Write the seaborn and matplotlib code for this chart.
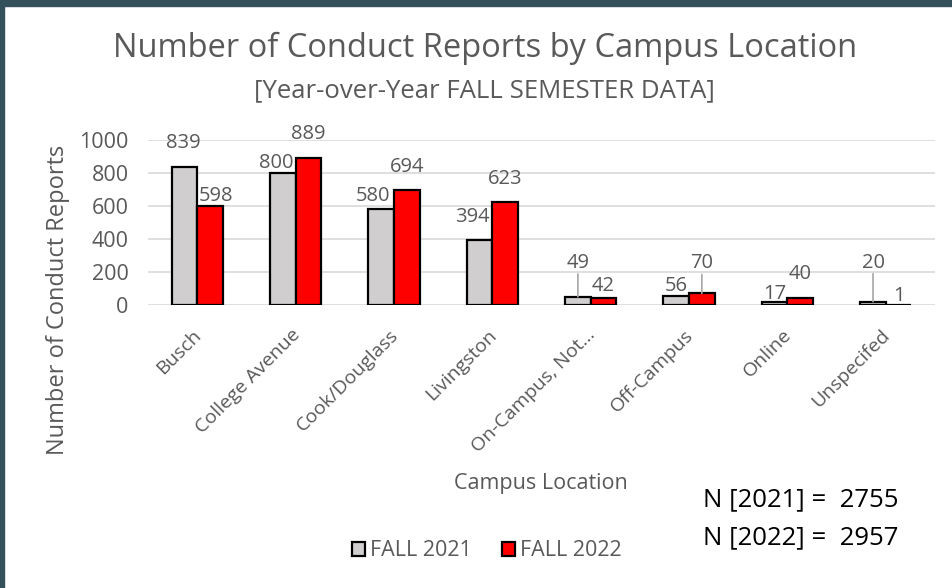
import numpy as np
import pandas as pd
import matplotlib
matplotlib.use("Agg")
import matplotlib.pyplot as plt
import matplotlib.transforms as mtransforms
import seaborn as sns
from matplotlib.patches import Rectangle

# data
locations = ["Busch", "College Avenue", "Cook/Douglass", "Livingston",
             "On-Campus, Not...", "Off-Campus", "Online", "Unspecifed"]
fall_2021 = [839, 800, 580, 394, 49, 56, 17, 20]
fall_2022 = [598, 889, 694, 623, 42, 70, 40, 1]
series_names = ["FALL 2021", "FALL 2022"]
yticks = [0, 200, 400, 600, 800, 1000]
n_totals = ["N [2021] =  2755", "N [2022] =  2957"]

df = pd.DataFrame({"location": locations, "FALL 2021": fall_2021, "FALL 2022": fall_2022})
long = df.melt(id_vars="location", var_name="year", value_name="count")

sns.set_style("white")
plt.rcParams["font.family"] = ["Open Sans", "DejaVu Sans"]
txt = "#595959"

fig = plt.figure(figsize=(9.53, 5.88), dpi=100)
# dark screenshot edge (top / left)
fig.patches.append(Rectangle((0, 1 - 6 / 588), 1, 6 / 588, transform=fig.transFigure,
                             color="#34505b", zorder=0))
fig.patches.append(Rectangle((0, 0), 4 / 953, 1, transform=fig.transFigure,
                             color="#34505b", zorder=0))

ax = fig.add_axes([148 / 953, 1 - 305 / 588, 787 / 953, 165 / 588])
sns.barplot(data=long, x="location", y="count", hue="year", palette=["#d0cece", "#ff0000"],
            saturation=1, width=0.52, gap=0, edgecolor="black", linewidth=1.6, ax=ax, zorder=3)

ax.set_ylim(0, 1000)
ax.set_yticks(yticks)
ax.yaxis.grid(True, color="#d9d9d9", linewidth=1.2, zorder=0)
ax.set_axisbelow(True)
for s in ax.spines.values():
    s.set_visible(False)
ax.tick_params(axis="y", length=0, pad=14, labelsize=15.5, labelcolor=txt)
ax.tick_params(axis="x", length=0, pad=15, labelsize=14, labelcolor=txt)
shift = mtransforms.ScaledTranslation(-5 / 100, 0, fig.dpi_scale_trans)
for lab in ax.get_xticklabels():
    lab.set_rotation(45)
    lab.set_ha("right")
    lab.set_rotation_mode("anchor")
    lab.set_transform(lab.get_transform() + shift)
ax.set_xlabel("")
ax.set_ylabel("")
ax.legend_.remove()

# data labels; offsets (px) mimic excel label placement
offs_2021 = [(-1, 24), (-7, 10), (-8, 13), (-7, 23), (0, 34), (0, 10), (0, 8), (0, 39)]
offs_2022 = [(6, 10), (0, 24), (0, 23), (0, 23), (0, 12), (0, 30), (0, 24), (0, 9)]
leader = {(0, 4), (1, 5), (0, 7)}
for k, (cont, vals, offs) in enumerate(zip(ax.containers, [fall_2021, fall_2022], [offs_2021, offs_2022])):
    for i, (bar, v) in enumerate(zip(cont, vals)):
        xc = bar.get_x() + bar.get_width() / 2
        dx, dy = offs[i]
        ax.annotate(str(v), xy=(xc, v), xytext=(dx, dy), textcoords="offset pixels",
                    ha="center", va="center", fontsize=14.5, color=txt, zorder=5,
                    annotation_clip=False)
        if (k, i) in leader:
            ax.annotate("", xy=(xc, v), xytext=(0, dy - 11), textcoords="offset pixels",
                        arrowprops=dict(arrowstyle="-", color="#a6a6a6", lw=1.2,
                                        shrinkA=0, shrinkB=0), annotation_clip=False)

fig.text(485 / 953, 1 - 48 / 588, "Number of Conduct Reports by Campus Location",
         ha="center", va="center", fontsize=23.5, color=txt)
fig.text(484 / 953, 1 - 91 / 588, "[Year-over-Year FALL SEMESTER DATA]",
         ha="center", va="center", fontsize=18.5, color=txt)
fig.text(58 / 953, 1 - 300 / 588, "Number of Conduct Reports", rotation=90,
         ha="center", va="center", fontsize=17, color=txt)
fig.text(541 / 953, 1 - 483 / 588, "Campus Location", ha="center", va="center",
         fontsize=15.5, color=txt)
for j, t in enumerate(n_totals):
    fig.text(703 / 953, 1 - (500 + 38 * j) / 588, t, ha="left", va="center",
             fontsize=18.5, color="black")

handles, labels = ax.get_legend_handles_labels()
fig.legend(handles, series_names, loc="center", bbox_to_anchor=(487 / 953, 1 - 551 / 588),
           ncol=2, frameon=False, fontsize=15.5, labelcolor=txt, handlelength=0.6,
           handleheight=0.6, handletextpad=0.25, columnspacing=1.4)

fig.savefig("out.png", dpi=100)
